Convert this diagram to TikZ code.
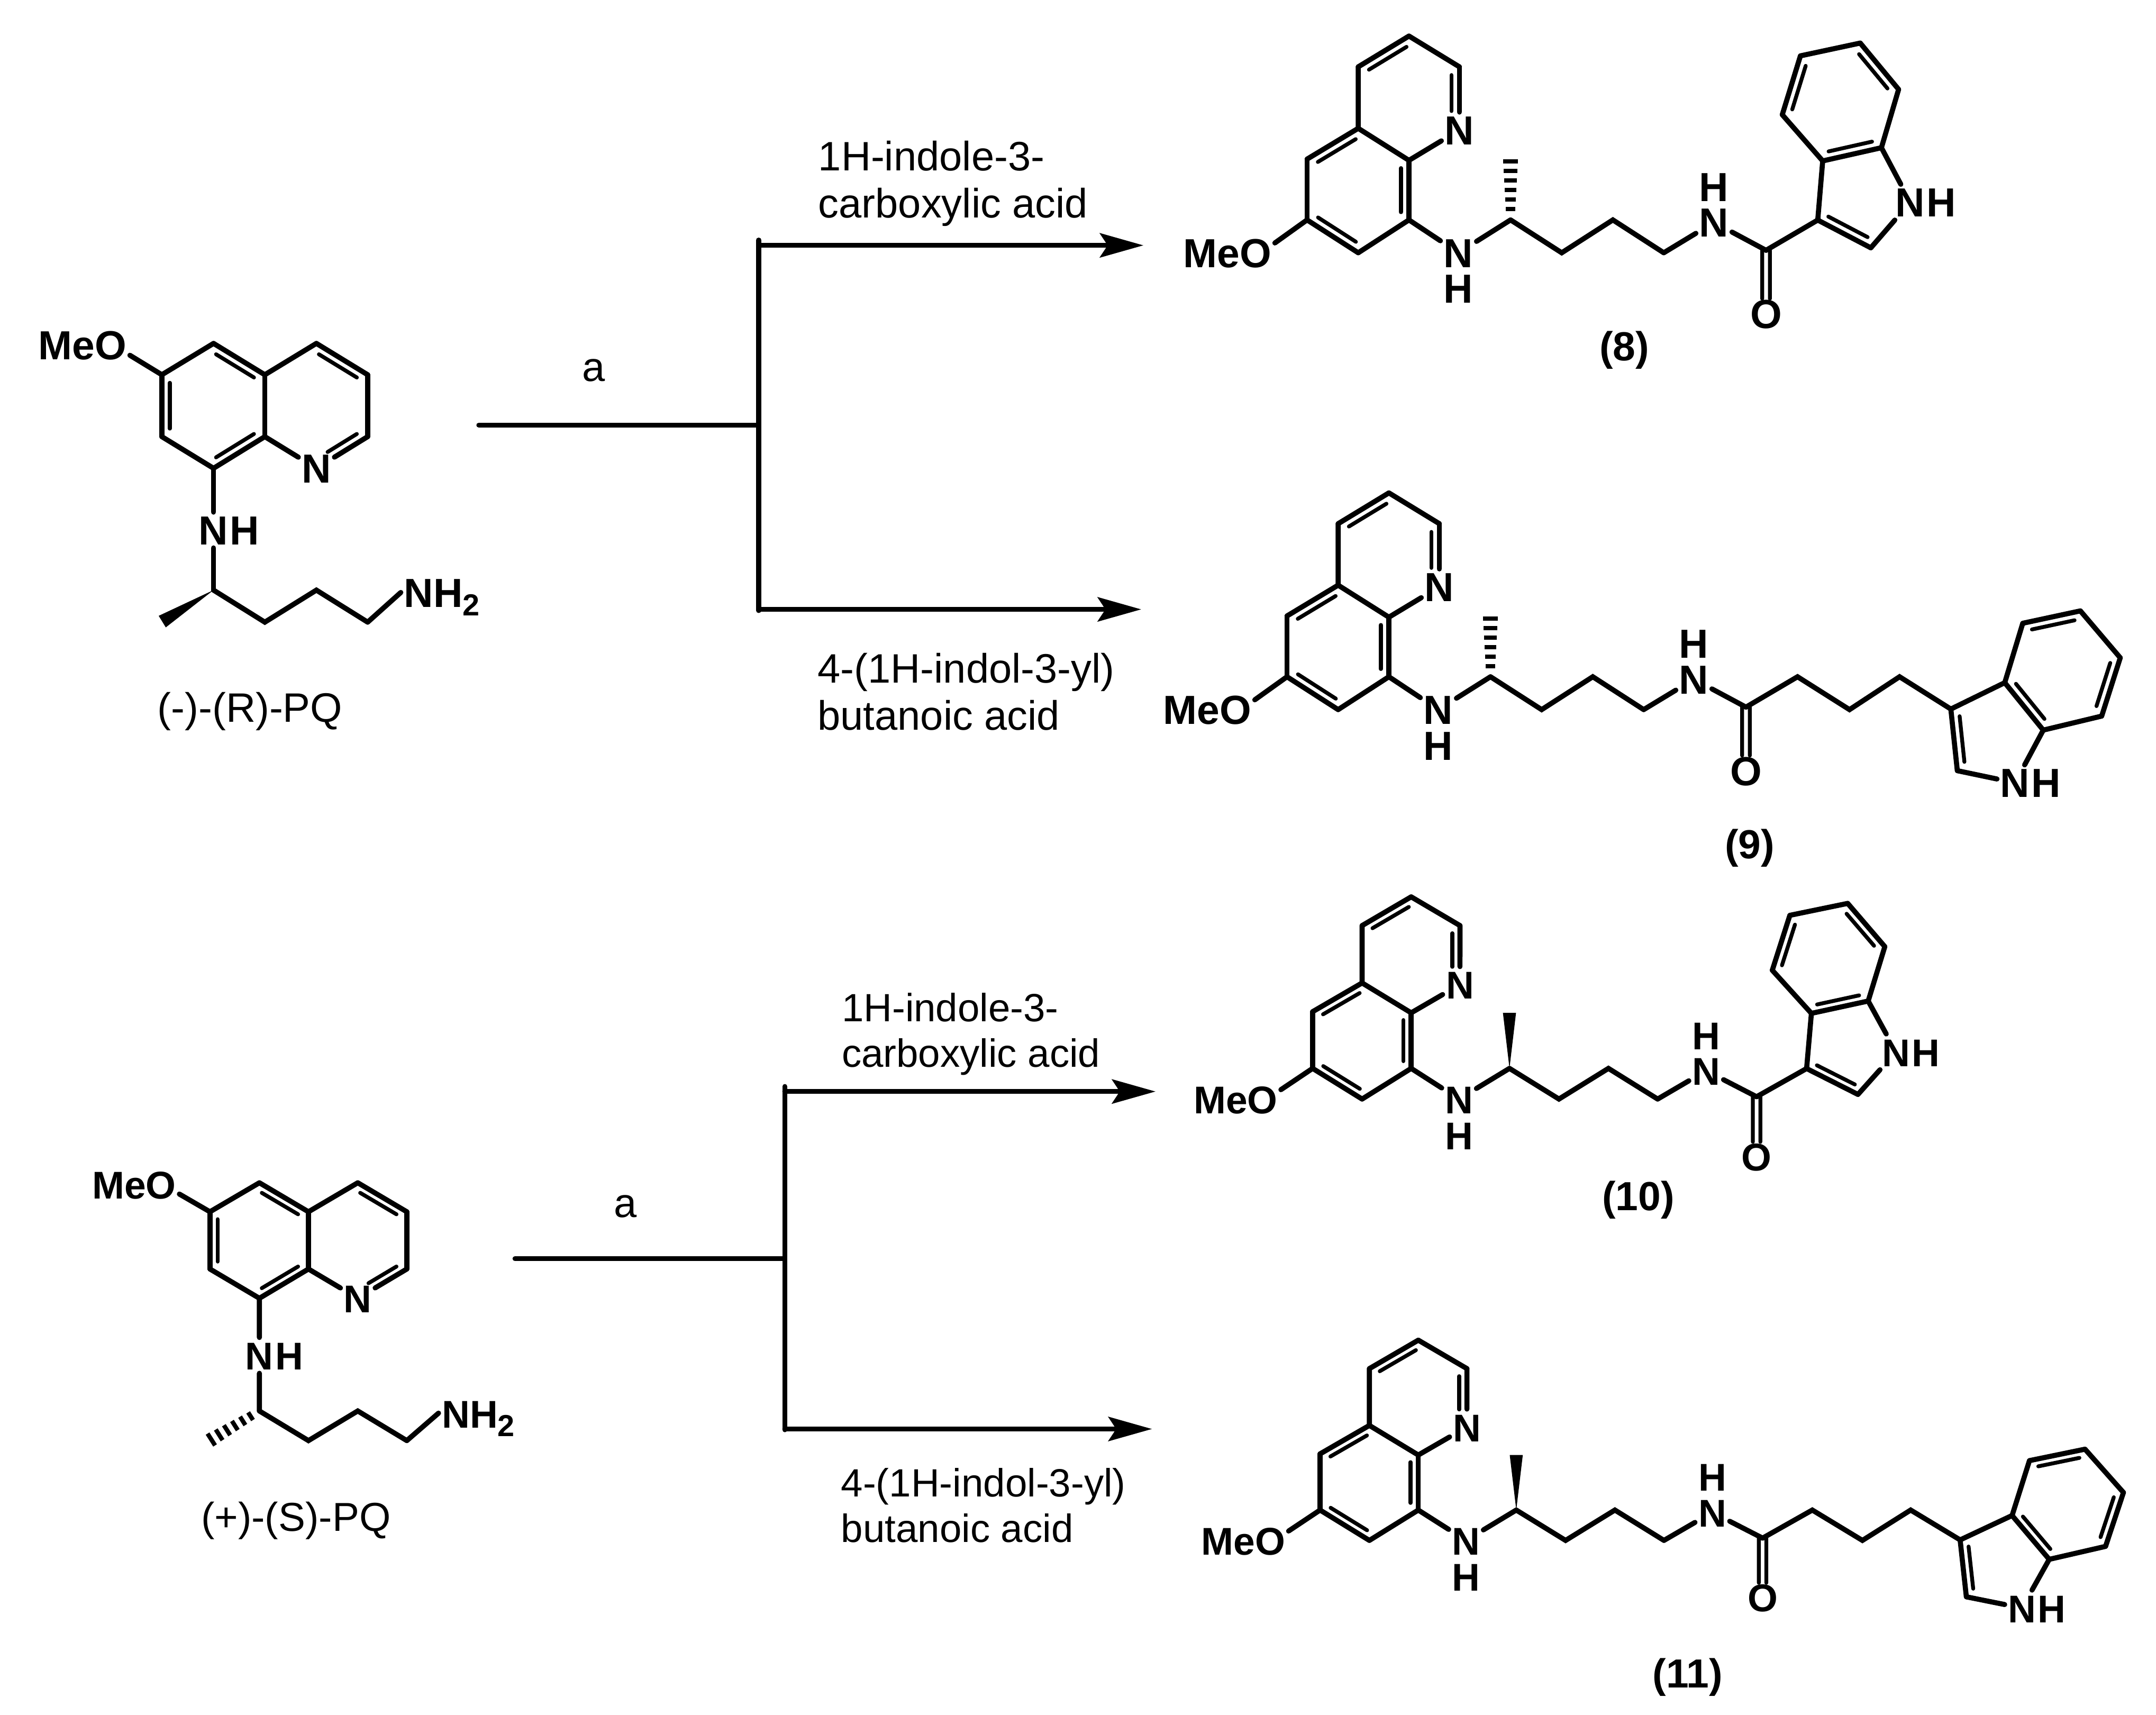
\documentclass[tikz,border=0pt]{standalone}
\usepackage{fontspec}
\setmainfont{Liberation Sans}
\usetikzlibrary{arrows.meta,calc,positioning}

\newcommand{\dbl}[3][.13]{
    \draw[bond] (#2) -- (#3);
    \draw[inner bond] ($(#2)!#1!(#3)!1.65pt!90:(#3)$) -- ($(#3)!.13!(#2)!1.65pt!-90:(#2)$);
}
\newcommand{\carbonyl}[2]{
    \draw[inner bond] ($(#1)!.8pt!90:(#2)$) -- ($(#1)!.76!(#2)!.8pt!90:(#2)$);
    \draw[inner bond] ($(#1)!.8pt!-90:(#2)$) -- ($(#1)!.76!(#2)!.8pt!-90:(#2)$);
}
\newcommand{\wedgebond}[2]{
    \fill ($(#2)!1.4pt!90:(#1)$) -- ($(#2)!1.4pt!-90:(#1)$) -- (#1) -- cycle;
}
\newcommand{\hashbond}[2]{
    \foreach \pos/\half in {.18/1.0,.34/1.1,.5/1.2,.66/1.3,.82/1.4,.98/1.55}{
        \draw[hash bar] ($(#1)!\pos!(#2)!\half pt!90:(#2)$) -- ($(#1)!\pos!(#2)!\half pt!-90:(#2)$);
    }
}
% quinoline ring and chain up to the amide
\newcommand{\quinchain}[1]{
    \coordinate (c3) at (1024.7,26.2);
    \coordinate (c4) at (987.8,48.6);
    \coordinate (c2) at (1061.4,48.6);
    \coordinate (c4a) at (987.8,93.3);
    \coordinate (c8a) at (1024.7,116.6);
    \coordinate (c5) at (950.6,115.7);
    \coordinate (c6) at (950.6,159.9);
    \coordinate (c7) at (987.8,183.8);
    \coordinate (c8) at (1024.7,159.9);
    \coordinate (ca) at (1098.6,159.9);
    \coordinate (me) at (1098.6,116.6);
    \coordinate (cb) at (1135.8,183.8);
    \coordinate (cc) at (1173,159.9);
    \coordinate (cd) at (1210,183.8);
    \coordinate (co) at (1284.4,182);
    \node[atom node] (n1) at (1061.4,94.5) {N};
    \node[atom node] (meo) at (892.7,184) {MeO};
    \node[atom node] (nh) at (1060.7,183.8) {N};
    \node[atom node] (nhh) [below=0pt of nh] {H};
    \node[atom node] (na) at (1246.5,161.7) {N};
    \node[atom node] (nah) [above=0pt of na] {H};
    \node[atom node] (ox) at (1284.4,228.3) {O};
    \dbl{c3}{c4}
    \dbl[.3]{n1}{c2}
    \draw[bond] (c2) -- (c3);
    \draw[bond] (c4) -- (c4a) -- (c8a);
    \draw[bond] (c8a) -- (n1);
    \dbl{c4a}{c5}
    \draw[bond] (c5) -- (c6);
    \dbl{c6}{c7}
    \draw[bond] (c7) -- (c8);
    \dbl{c8}{c8a}
    \draw[bond] (c6) -- (meo.12);
    \draw[bond] (c8) -- (nh);
    \draw[bond] (nh) -- (ca);
    #1{ca}{me}
    \draw[bond] (ca) -- (cb) -- (cc) -- (cd);
    \draw[bond] (cd) -- (na);
    \draw[bond] (na) -- (co);
    \carbonyl{co}{ox}
}
\tikzset{
    pics/indolamide/.style={code={
        \quinchain{#1}
        \coordinate (i3) at (1322,160);
        \coordinate (i2) at (1360.6,180.2);
        \coordinate (i3a) at (1325.6,117);
        \coordinate (i7a) at (1368.3,107.4);
        \coordinate (i4) at (1296.2,83.4);
        \coordinate (i5) at (1309.4,40.6);
        \coordinate (i6) at (1352.9,31.3);
        \coordinate (i7) at (1380.8,65);
        \node[atom node] (in) at (1389.3,147) {N};
        \node[atom node] (inh) [right=-1pt of in] {H};
        \draw[bond] (co) -- (i3);
        \dbl{i3}{i2}
        \draw[bond] (i2) -- (in);
        \draw[bond] (in) -- (i7a);
        \dbl{i3a}{i7a}
        \draw[bond] (i3a) -- (i3);
        \draw[bond] (i7a) -- (i7);
        \dbl{i7}{i6}
        \draw[bond] (i6) -- (i5);
        \dbl{i5}{i4}
        \draw[bond] (i4) -- (i3a);
    }},
    pics/indolbutanamide/.style={code={
        \quinchain{#1}
        \coordinate (ce) at (1321.9,159.9);
        \coordinate (cf) at (1359.7,183.8);
        \coordinate (cg) at (1396.1,159.9);
        \coordinate (i3) at (1433.4,183.4);
        \coordinate (i2) at (1438.1,228.2);
        \coordinate (i3a) at (1472.6,164.2);
        \coordinate (i7a) at (1500.6,198.7);
        \coordinate (i4) at (1485.7,121);
        \coordinate (i5) at (1527.6,112);
        \coordinate (i6) at (1556.6,146.1);
        \coordinate (i7) at (1543.1,188.5);
        \node[atom node] (in) at (1480.1,237) {N};
        \node[atom node] (inh) [right=-1pt of in] {H};
        \draw[bond] (co) -- (ce) -- (cf) -- (cg) -- (i3);
        \dbl{i3}{i2}
        \draw[bond] (i2) -- (in);
        \draw[bond] (in) -- (i7a);
        \draw[bond] (i3) -- (i3a);
        \dbl{i3a}{i7a}
        \draw[bond] (i7a) -- (i7);
        \dbl{i7}{i6}
        \draw[bond] (i6) -- (i5);
        \dbl{i5}{i4}
        \draw[bond] (i4) -- (i3a);
    }},
    pics/primaquine/.style={code={
        \coordinate (c6) at (117.7,272.5);
        \coordinate (c5) at (155.3,249.7);
        \coordinate (c4a) at (192.6,272.5);
        \coordinate (c4) at (230.1,249.7);
        \coordinate (c3) at (267.4,272.5);
        \coordinate (c2) at (267.4,317.5);
        \coordinate (c8a) at (192.6,317.5);
        \coordinate (c8) at (155.3,340.5);
        \coordinate (c7) at (117.7,317.5);
        \coordinate (ca) at (155.3,429.1);
        \coordinate (me) at (118,452);
        \coordinate (cb) at (192.6,452.4);
        \coordinate (cc) at (230.1,429.1);
        \coordinate (cd) at (267.4,452.4);
        \node[atom node] (n1) at (230.1,340.5) {N};
        \node[atom node] (meo) at (60,251) {MeO};
        \node[atom node] (nh) at (155.3,385.4) {N};
        \node[atom node] (nhh) [right=-1pt of nh] {H};
        \node[atom node,anchor=west] (nt) at (291.5,430.8) {NH\raisebox{-1.8pt}{\fontsize{6.3}{7}\selectfont 2}};
        \dbl{c6}{c7}
        \draw[bond] (c7) -- (c8);
        \dbl{c8}{c8a}
        \dbl{c4a}{c5}
        \draw[bond] (c5) -- (c6);
        \draw[bond] (c8a) -- (c4a);
        \draw[bond] (c4a) -- (c4);
        \dbl{c3}{c4}
        \draw[bond] (c3) -- (c2);
        \dbl[.3]{n1}{c2}
        \draw[bond] (c8a) -- (n1);
        \draw[bond] (c6) -- (meo.-12);
        \draw[bond] (c8) -- (nh);
        \draw[bond] (nh) -- (ca);
        #1{ca}{me}
        \draw[bond] (ca) -- (cb) -- (cc) -- (cd);
        \draw[bond] (cd) -- (nt.west);
    }}
}

\begin{document}
\begin{tikzpicture}[x=0.01cm,y=-0.01cm]
    \tikzstyle{atom node}=[inner sep=.5pt,text height=6pt,text depth=0pt,font=\bfseries\fontsize{8.4}{10}\selectfont]
    \tikzstyle{small atoms}=[atom node/.append style={font=\bfseries\fontsize{8}{10}\selectfont}]
    \tikzstyle{bond}=[line width=1.05pt,line cap=round,line join=miter]
    \tikzstyle{inner bond}=[line width=.8pt,line cap=round]
    \tikzstyle{hash bar}=[line width=.9pt]
    \tikzstyle{flow}=[line width=1pt,line cap=round]
    \tikzstyle{branch}=[flow,-{Stealth[length=9pt,width=5pt,inset=1.6pt]}]
    \tikzstyle{reagent}=[align=left,anchor=west,inner sep=0pt,font=\fontsize{8.5}{9.7}\selectfont]
    \tikzstyle{small reagent}=[reagent,font=\fontsize{8.15}{9.4}\selectfont]
    \tikzstyle{compound}=[inner sep=0pt,font=\bfseries\fontsize{8.4}{10}\selectfont]
    \tikzstyle{drug}=[inner sep=0pt,font=\fontsize{8.5}{10}\selectfont]
    \useasboundingbox (0,0) rectangle (1568,1247);

    % starting materials
    \pic (pqr) {primaquine=\wedgebond};
    \pic (pqs) [shift={(40.1,629.1)},xscale=.9566,yscale=.925,small atoms] {primaquine=\hashbond};
    \node[drug] (lblr) at (181.8,517.4) {(-)-(R)-PQ};
    \node[drug,font=\fontsize{8.35}{10}\selectfont] (lbls) at (215.2,1105.9) {(+)-(S)-PQ};

    % products
    \pic (m8) {indolamide=\hashbond};
    \pic (m9) [shift={(-14.6,332.2)}] {indolbutanamide=\hashbond};
    \pic (m10) [shift={(35.1,627.7)},xscale=.9674,yscale=.933,small atoms] {indolamide=\wedgebond};
    \pic (m11) [shift={(43.5,950.3)},xscale=.9642,yscale=.924,small atoms] {indolbutanamide=\wedgebond};
    \node[compound] (lbl8) at (1181.4,254.4) {(8)};
    \node[compound] (lbl9) at (1272.5,616.7) {(9)};
    \node[compound] (lbl10) at (1191.5,872.7) {(10)};
    \node[compound] (lbl11) at (1227.4,1219.5) {(11)};

    % upper scheme
    \coordinate (s1) at (348.2,309.1);
    \coordinate (j1) at (551.8,309.1);
    \coordinate (t1) at (551.8,174.5);
    \coordinate (b1) at (551.8,444);
    \coordinate (u1) at (551.8,178.4);
    \coordinate (v1) at (551.8,443.1);
    \coordinate (ua) at (831.6,178.4);
    \coordinate (va) at (830,443.1);
    \node[drug] (a1) at (431.8,269.4) {a};
    \draw[flow] (s1) -- (j1);
    \draw[flow] (t1) -- (b1);
    \draw[branch] (u1) -- (ua);
    \draw[branch] (v1) -- (va);
    \node[reagent] (r1) at (594.5,133.5) {1H-indole-3-\\carboxylic acid};
    \node[reagent] (r2) at (594,503) {4-(1H-indol-3-yl)\\butanoic acid};

    % lower scheme
    \coordinate (s2) at (374.5,915.3);
    \coordinate (j2) at (570.7,915.3);
    \coordinate (t2) at (570.7,790);
    \coordinate (b2) at (570.7,1039.7);
    \coordinate (u2) at (570.7,793.7);
    \coordinate (v2) at (570.7,1039.1);
    \coordinate (ub) at (840.4,793.7);
    \coordinate (vb) at (837.8,1039.1);
    \node[drug] (a2) at (454.9,877.4) {a};
    \draw[flow] (s2) -- (j2);
    \draw[flow] (t2) -- (b2);
    \draw[branch] (u2) -- (ub);
    \draw[branch] (v2) -- (vb);
    \node[small reagent] (r3) at (611.5,752) {1H-indole-3-\\carboxylic acid};
    \node[small reagent] (r4) at (611,1094.5) {4-(1H-indol-3-yl)\\butanoic acid};
\end{tikzpicture}
\end{document}
